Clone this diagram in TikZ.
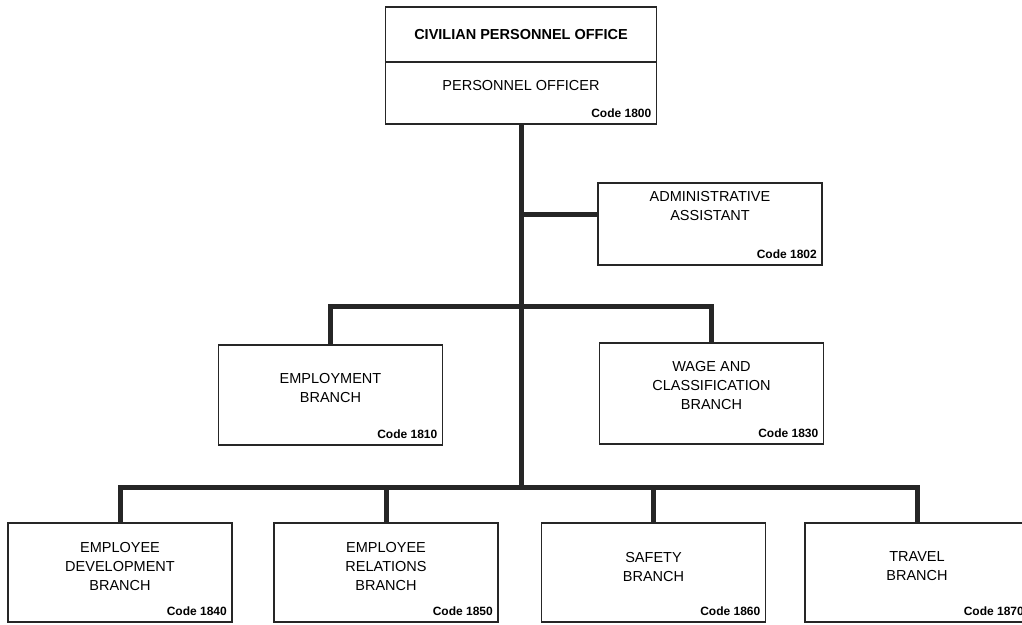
\documentclass[tikz,border=0pt]{standalone}
\usepackage{fontspec}
\setmainfont{Liberation Sans}
\usetikzlibrary{positioning}

\tikzset{
	officebox/.style={draw=black!85, line width=1.3pt, rectangle, inner sep=0pt, outer sep=0pt, minimum width=224pt, minimum height=100pt},
	boxtext/.style={align=center, inner sep=0pt, font=\fontsize{14.5}{19}\selectfont},
	codetag/.style={anchor=base east, inner sep=0pt, font=\fontsize{12}{14}\selectfont\bfseries},
	link/.style={line width=5pt, draw=black!85}
}

\begin{document}
\begin{tikzpicture}[x=1pt,y=-1pt]
		\useasboundingbox (0,0) rectangle (1022,624);
	
		% head of the office
		\node[officebox, minimum width=271pt, minimum height=55pt] (office) at (521,34.5) {};
		\node[officebox, minimum width=271pt, minimum height=62pt, below=0pt of office] (officer) {};
		\node[boxtext, font=\fontsize{14.5}{18}\selectfont\bfseries] (office-t) at (office.center) {CIVILIAN PERSONNEL OFFICE};
		\node[boxtext] (officer-t) at ([yshift=7pt]officer.center) {PERSONNEL OFFICER};
		\node[codetag] (officer-c) at ([xshift=-5pt,yshift=7pt]officer.south east) {Code 1800};
		
		% staff
		\node[officebox, minimum height=82pt] (admin) at (710,224) {};
		\node[boxtext] (admin-t) at ([yshift=18pt]admin.center) {ADMINISTRATIVE\\ASSISTANT};
		\node[codetag] (admin-c) at ([xshift=-5pt,yshift=7pt]admin.south east) {Code 1802};
		
		% second row
		\node[officebox] (employment) at (330.5,395) {};
		\node[boxtext] (employment-t) at ([yshift=7pt]employment.center) {EMPLOYMENT\\BRANCH};
		\node[codetag] (employment-c) at ([xshift=-5pt,yshift=7pt]employment.south east) {Code 1810};
		
		\node[officebox, minimum height=101pt] (wage) at (711.5,393.5) {};
		\node[boxtext] (wage-t) at ([yshift=8pt]wage.center) {WAGE AND\\CLASSIFICATION\\BRANCH};
		\node[codetag] (wage-c) at ([xshift=-5pt,yshift=7pt]wage.south east) {Code 1830};
		
		% bottom row
		\node[officebox, minimum height=99pt] (development) at (120,572.5) {};
		\node[boxtext] (development-t) at ([yshift=6pt]development.center) {EMPLOYEE\\DEVELOPMENT\\BRANCH};
		\node[codetag] (development-c) at ([xshift=-5pt,yshift=7pt]development.south east) {Code 1840};
		
		\node[officebox, minimum height=99pt] (relations) at (386,572.5) {};
		\node[boxtext] (relations-t) at ([yshift=6pt]relations.center) {EMPLOYEE\\RELATIONS\\BRANCH};
		\node[codetag] (relations-c) at ([xshift=-5pt,yshift=7pt]relations.south east) {Code 1850};
		
		\node[officebox, minimum height=99pt] (safety) at (653.5,572.5) {};
		\node[boxtext] (safety-t) at ([yshift=6pt]safety.center) {SAFETY\\BRANCH};
		\node[codetag] (safety-c) at ([xshift=-5pt,yshift=7pt]safety.south east) {Code 1860};
		
		\node[officebox, minimum height=99pt] (travel) at (917,572.5) {};
		\node[boxtext] (travel-t) at ([yshift=6pt]travel.center) {TRAVEL\\BRANCH};
		\node[codetag] (travel-c) at ([xshift=-5pt,yshift=7pt]travel.south east) {Code 1870};
		
		% lines of authority
		\coordinate (adminjoin) at (521,214);
		\coordinate (bus1) at (521,306);
		\coordinate (bus2) at (521,487);
		
		\draw[link] (officer.south) -- (bus2);
		\draw[link] (adminjoin) -- (adminjoin -| admin.west);
		\draw[link] (employment.north) |- (bus1) -| (wage.north);
		\draw[link] (development.north) |- (bus2) -| (travel.north);
		\draw[link] (relations.north) -- (relations.north |- bus2);
		\draw[link] (safety.north) -- (safety.north |- bus2);
	\end{tikzpicture}
\end{document}
